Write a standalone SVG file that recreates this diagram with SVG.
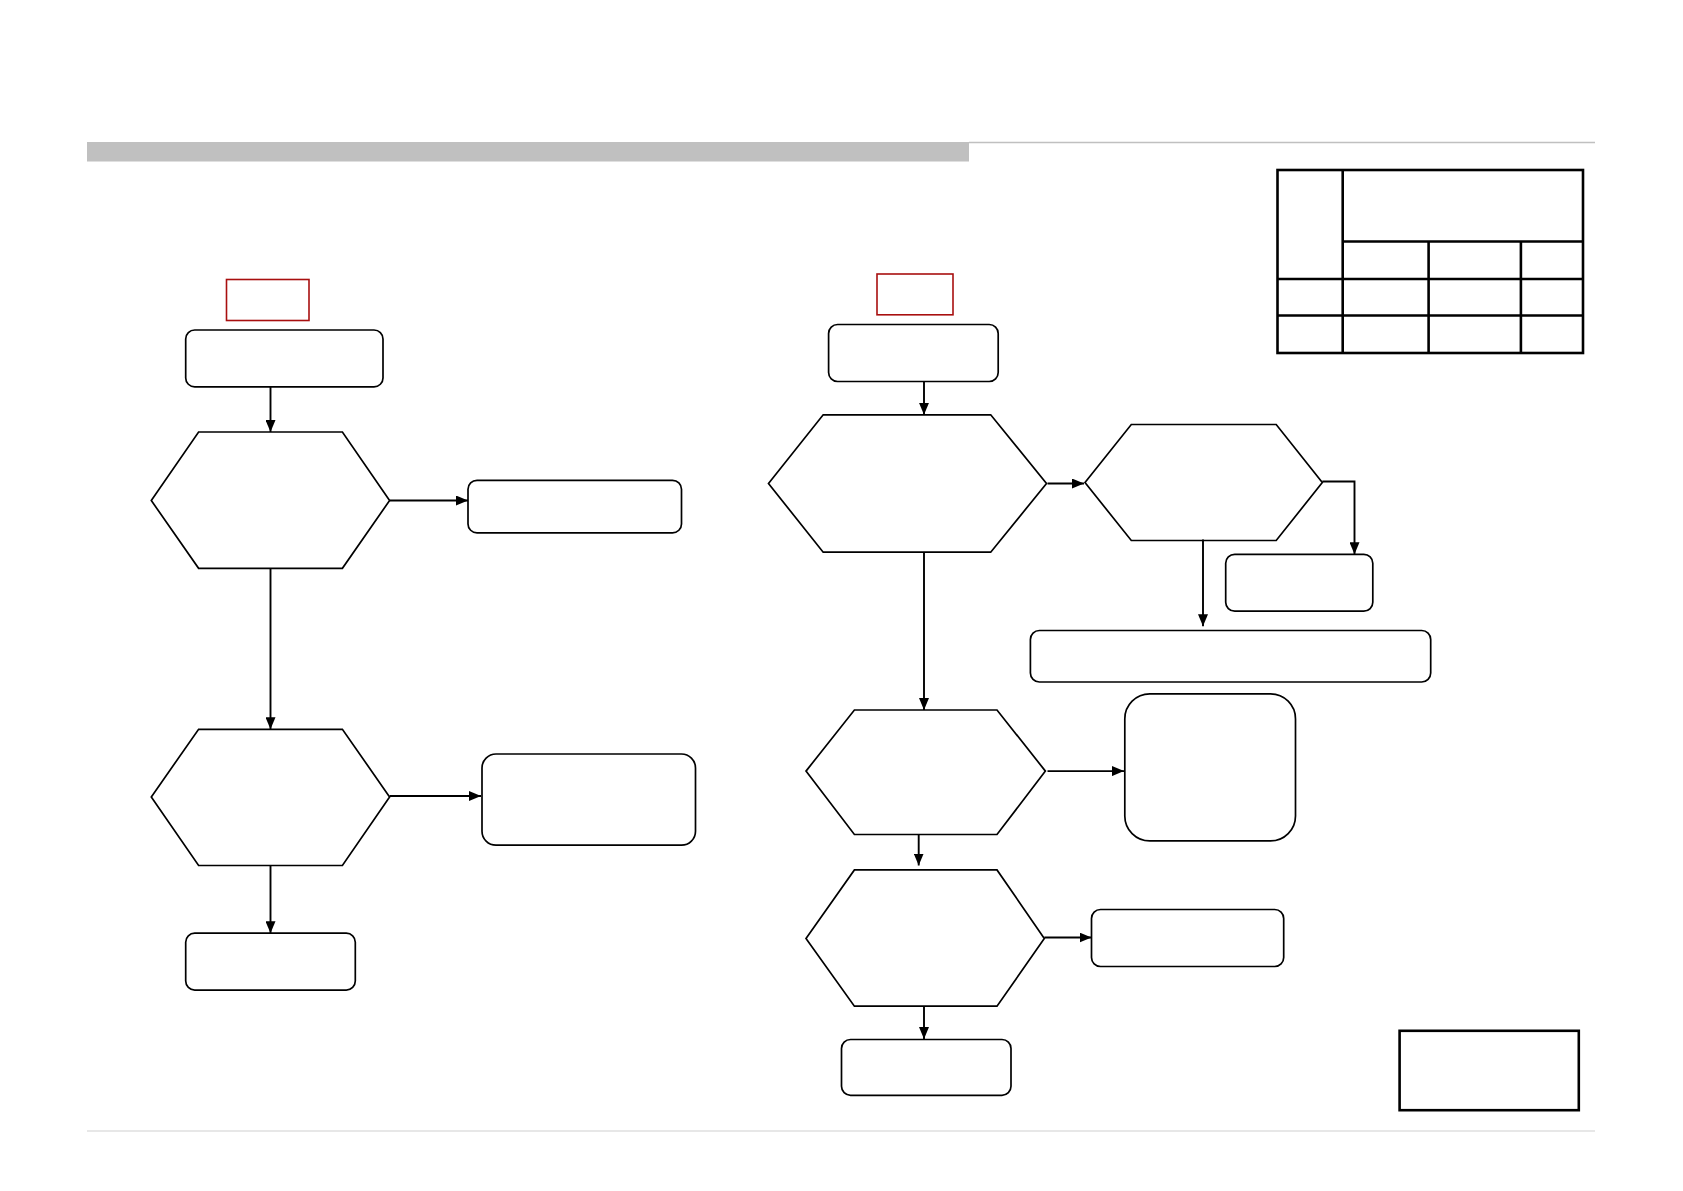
<svg xmlns="http://www.w3.org/2000/svg" width="1683" height="1191" viewBox="0 0 1683 1191">
<style>
.n{fill:#fff;stroke:#000;stroke-width:1.7}
.c{fill:none;stroke:#000;stroke-width:1.9}
.red{fill:#fff;stroke:#a80f0f;stroke-width:1.6}
.t{fill:none;stroke:#000;stroke-width:2.6}
</style>
<defs>
<marker id="ah" viewBox="0 0 12 10" refX="12" refY="5" markerWidth="12" markerHeight="10" markerUnits="userSpaceOnUse" orient="auto">
<path d="M0,0 L12,5 L0,10 Z" fill="#000"/>
</marker>
</defs>
<rect width="1683" height="1191" fill="#fff"/>
<g id="header">
<rect x="87" y="142" width="882" height="19.5" fill="#c0c0c0"/>
<line x1="969" y1="142.5" x2="1595" y2="142.5" stroke="#c0c0c0" stroke-width="1.5"/>
<line x1="87" y1="1131" x2="1595" y2="1131" stroke="#d0d0d0" stroke-width="1.2"/>
</g>
<g id="table">
<rect class="t" x="1277.5" y="170" width="305.5" height="183"/>
<line class="t" x1="1342.7" y1="170" x2="1342.7" y2="353"/>
<line class="t" x1="1342.7" y1="241.5" x2="1583" y2="241.5"/>
<line class="t" x1="1277.5" y1="279" x2="1583" y2="279"/>
<line class="t" x1="1277.5" y1="315.5" x2="1583" y2="315.5"/>
<line class="t" x1="1428.6" y1="241.5" x2="1428.6" y2="353"/>
<line class="t" x1="1520.9" y1="241.5" x2="1520.9" y2="353"/>
</g>
<g id="legend"><rect class="t" x="1399.6" y="1030.8" width="179.2" height="79.4"/></g>
<g id="tag1"><rect class="red" x="226.5" y="279.5" width="82.5" height="41"/></g>
<g id="tag2"><rect class="red" x="877" y="274" width="76" height="40.8"/></g>
<g id="start1"><rect class="n" x="185.7" y="330" width="197.3" height="56.9" rx="9"/></g>
<g id="dec1"><polygon class="n" points="151.3,500.5 198.6,432 342.4,432 389.6,500.5 342.4,568.3 198.6,568.3"/></g>
<g id="box2"><rect class="n" x="468" y="480.3" width="213.5" height="52.6" rx="9"/></g>
<g id="dec2"><polygon class="n" points="151.3,796.9 198.6,729.3 342.4,729.3 389.6,796.9 342.4,865.5 198.6,865.5"/></g>
<g id="box3"><rect class="n" x="482" y="754" width="213.5" height="91.2" rx="14"/></g>
<g id="box4"><rect class="n" x="185.7" y="933.2" width="169.6" height="56.9" rx="9"/></g>
<g id="start2"><rect class="n" x="828.6" y="324.5" width="169.6" height="57" rx="9"/></g>
<g id="dec3"><polygon class="n" points="768.5,483.5 823.2,414.8 990.7,414.8 1046.5,483.5 990.7,552.2 823.2,552.2"/></g>
<g id="dec4"><polygon class="n" points="1085,482.5 1131.3,424.5 1276.2,424.5 1322.3,482.5 1276.2,540.5 1131.3,540.5"/></g>
<g id="box6"><rect class="n" x="1225.7" y="554.3" width="147.1" height="56.9" rx="9"/></g>
<g id="box7"><rect class="n" x="1030.4" y="630.5" width="400.3" height="51.5" rx="9"/></g>
<g id="dec5"><polygon class="n" points="806,771.1 854.4,710 997,710 1045.4,771.1 997,834.5 854.4,834.5"/></g>
<g id="box8"><rect class="n" x="1124.8" y="693.9" width="170.7" height="147" rx="25"/></g>
<g id="dec6"><polygon class="n" points="806,938.5 854.4,869.9 997,869.9 1044.3,938.5 997,1006.2 854.4,1006.2"/></g>
<g id="box9"><rect class="n" x="1091.5" y="909.5" width="192.2" height="57" rx="9"/></g>
<g id="box10"><rect class="n" x="841.5" y="1039.5" width="169.5" height="55.8" rx="9"/></g>
<g id="connectors">
<line class="c" x1="270.5" y1="386.9" x2="270.5" y2="432" marker-end="url(#ah)"/>
<line class="c" x1="389.6" y1="500.5" x2="468" y2="500.5" marker-end="url(#ah)"/>
<line class="c" x1="270.5" y1="568.3" x2="270.5" y2="729.3" marker-end="url(#ah)"/>
<line class="c" x1="389.6" y1="796" x2="481" y2="796" marker-end="url(#ah)"/>
<line class="c" x1="270.5" y1="865.5" x2="270.5" y2="933.2" marker-end="url(#ah)"/>
<line class="c" x1="924" y1="381.5" x2="924" y2="414.8" marker-end="url(#ah)"/>
<line class="c" x1="1047.5" y1="483.5" x2="1084" y2="483.5" marker-end="url(#ah)"/>
<polyline class="c" points="1322.3,481.5 1354.5,481.5 1354.5,554.3" marker-end="url(#ah)"/>
<line class="c" x1="1203" y1="539.5" x2="1203" y2="626.2" marker-end="url(#ah)"/>
<line class="c" x1="924" y1="552.2" x2="924" y2="710" marker-end="url(#ah)"/>
<line class="c" x1="1047.5" y1="771.1" x2="1124" y2="771.1" marker-end="url(#ah)"/>
<line class="c" x1="918.7" y1="834.5" x2="918.7" y2="865.5" marker-end="url(#ah)"/>
<line class="c" x1="1044.3" y1="937.5" x2="1091.5" y2="937.5" marker-end="url(#ah)"/>
<line class="c" x1="924" y1="1006.2" x2="924" y2="1039" marker-end="url(#ah)"/>
</g>
</svg>
